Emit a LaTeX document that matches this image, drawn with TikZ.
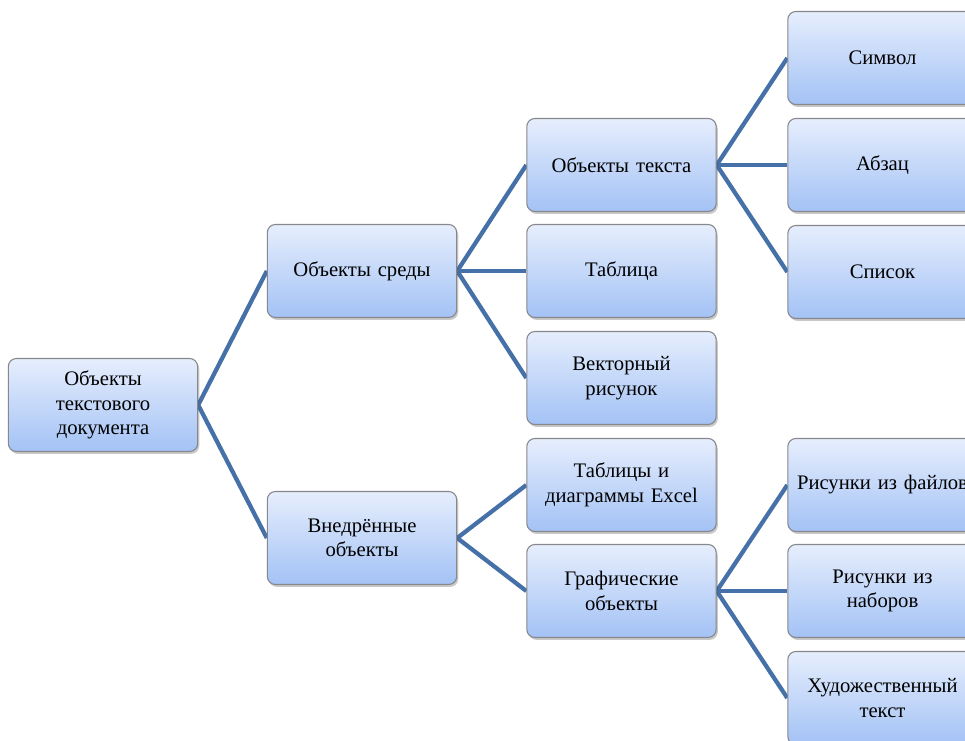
\documentclass[tikz,border=0pt]{standalone}
\usepackage{fontspec}
\setmainfont{Liberation Serif}
\usetikzlibrary{shadows,backgrounds}
\definecolor{linec}{RGB}{70,113,168}
\definecolor{boxtop}{RGB}{230,238,253}
\definecolor{boxbot}{RGB}{163,194,245}
\definecolor{boxborder}{RGB}{135,135,140}
\tikzset{
  box/.style={draw=boxborder, line width=0.8pt, rounded corners=6pt,
    top color=boxtop, bottom color=boxbot,
    minimum width=140.25pt, minimum height=69.75pt, inner sep=2pt,
    text width=138pt, align=center,
    font=\fontsize{15.5pt}{18.4pt}\selectfont,
    drop shadow={shadow xshift=1.2pt, shadow yshift=-1.8pt, opacity=0.3, fill=black!70}},
  conn/.style={draw=linec, line width=3.2pt}
}
\begin{document}
\begin{tikzpicture}[x=0.75pt,y=-0.75pt]
\useasboundingbox (0,0) rectangle (965,740);
\clip (0,0) rectangle (965,740);
% root
\node[box] (root) at (103,405) {Объекты\\текстового\\документа};
% column 1
\node[box] (sreda) at (362,271) {Объекты среды};
\node[box] (vnedr) at (362,538) {Внедрённые\\объекты};
% column 2
\node[box] (otext) at (621.5,165) {Объекты текста};
\node[box] (tabl) at (621.5,271) {Таблица};
\node[box] (vekt) at (621.5,378) {Векторный\\рисунок};
\node[box] (excel) at (621.5,485) {Таблицы и\\диаграммы Excel};
\node[box] (graf) at (621.5,591) {Графические\\объекты};
% column 3
\node[box] (simv) at (882.5,58) {Символ};
\node[box] (abz) at (882.5,165) {Абзац};
\node[box] (spis) at (882.5,272) {Список};
\node[box] (risf) at (882.5,485) {Рисунки из файлов};
\node[box] (risn) at (882.5,591) {Рисунки из\\наборов};
\node[box] (hud) at (882.5,698) {Художественный\\текст};
% connectors
\begin{scope}[on background layer]
\draw[conn] (root.east) -- (sreda.west);
\draw[conn] (root.east) -- (vnedr.west);
\draw[conn] (sreda.east) -- (otext.west);
\draw[conn] (sreda.east) -- (tabl.west);
\draw[conn] (sreda.east) -- (vekt.west);
\draw[conn] (vnedr.east) -- (excel.west);
\draw[conn] (vnedr.east) -- (graf.west);
\draw[conn] (otext.east) -- (simv.west);
\draw[conn] (otext.east) -- (abz.west);
\draw[conn] (otext.east) -- (spis.west);
\draw[conn] (graf.east) -- (risf.west);
\draw[conn] (graf.east) -- (risn.west);
\draw[conn] (graf.east) -- (hud.west);
\end{scope}
\end{tikzpicture}
\end{document}
